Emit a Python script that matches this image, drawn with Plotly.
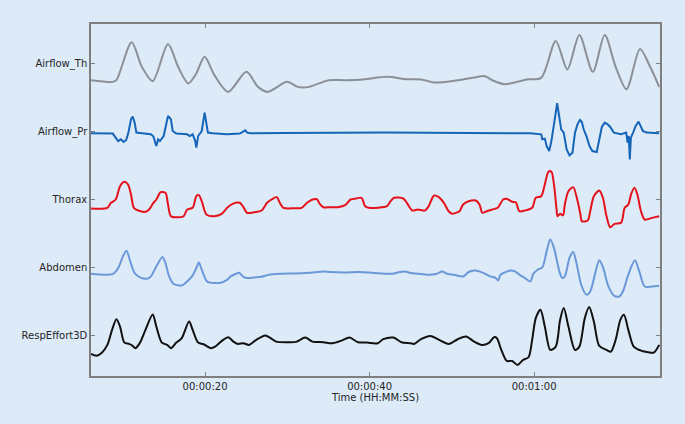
import plotly.graph_objects as go

# ---- Data (time in seconds, amplitude in arbitrary units) ----
channel_names = ["Airflow_Th", "Airflow_Pr", "Thorax", "Abdomen", "RespEffort3D"]
channel_colors = ["#8a9096", "#1565b8", "#e5121b", "#6b98d8", "#111111"]
channel_offsets = [272, 204, 136, 68, 0]

x_tick_seconds = [20, 40, 60]
x_tick_labels = ["00:00:20", "00:00:40", "00:01:00"]

airflow_th_t = [6.14, 8.79, 9.23, 11.08, 12.32, 13.64, 15.50, 16.73, 17.97, 18.94, 19.95, 21.14,
                22.82, 25.03, 26.44, 27.63, 29.97, 31.29, 32.62, 35.05, 37.03, 39.24, 42.11, 44.53,
                46.30, 47.84, 50.27, 52.48, 54.02, 54.90, 56.45, 59.10, 60.86, 62.63, 64.04, 65.50,
                67.13, 68.58, 69.91, 71.23, 72.87, 74.10, 75.20]
airflow_th_v = [-17, -18.7, -17, 20.7, -3.7, -18, 19, -3.7, -20.3, -10.3, 6.3, -12,
                -28.7, -8.7, -23.7, -28.7, -18.7, -23.7, -23.7, -17, -17, -16.3, -13.7, -16,
                -16.3, -19.3, -17.7, -14.7, -13, -17, -21, -16.3, -14.7, 22, -6.3, 28,
                -8.7, 28, -3.7, -26, 14, -3.7, -23.7]

airflow_pr_t = [6.14, 8.79, 9.14, 9.45, 9.76, 10.11, 10.42, 10.69, 11.00, 11.21, 11.44, 11.66,
                12.32, 13.42, 13.73, 14.00, 14.08, 14.30, 14.52, 14.97, 15.27, 15.50, 15.85, 16.07,
                16.51, 17.83, 18.14, 18.50, 18.81, 18.94, 19.16, 19.60, 19.95, 20.17, 20.35, 20.92,
                22.69, 24.23, 24.67, 24.90, 25.12, 25.56, 29.53, 41.89, 59.54, 60.86, 60.99, 61.30,
                61.52, 61.83, 62.10, 62.27, 62.45, 62.63, 62.80, 63.07, 63.29, 63.60, 63.95, 64.30,
                64.66, 64.97, 65.27, 65.58, 65.80, 66.02, 66.38, 66.73, 67.08, 67.61, 67.92, 68.23,
                68.58, 68.94, 69.25, 69.69, 70.57, 71.19, 71.36, 71.50, 71.63, 71.76, 72.03, 72.34,
                72.69, 72.95, 73.22, 73.66, 75.20]
airflow_pr_v = [-2.0, -2.3, -6.3, -9.7, -8.0, -10.7, -8.7, -1.3, 12.0, 14.7, 8.7, -1.3,
                -2.0, -3.0, -5.3, -11.3, -14.7, -8.0, -9.7, -4.7, 8.7, 15.3, 12.0, 0.3,
                -2.3, -3.0, -4.7, -3.0, -9.7, -16.3, -4.7, 0.3, 18.7, 5.3, -1.3, -2.0,
                -3.0, -2.3, 0.3, 1.0, -1.3, -2.0, -1.7, -1.3, -2.0, -3.0, -8.0, -7.3,
                -14.7, -19.7, -9.7, -1.3, 5.3, 18.7, 28.0, 12.0, 2.0, -1.3, -18.0, -24.0,
                -21.3, -1.3, 7.0, 11.3, 9.3, 2.0, -5.3, -14.7, -19.7, -20.7, -9.7, 4.3,
                8.7, 7.0, 4.3, -1.3, -3.0, -1.3, -11.3, -4.7, -28.0, -6.3, -1.3, 5.3,
                9.7, 4.3, 0.3, -1.3, -2.0]

thorax_t = [6.14, 8.13, 8.57, 9.14, 9.67, 10.20, 10.64, 11.00, 11.35, 11.88, 12.76, 13.20,
            13.64, 14.08, 14.61, 15.19, 15.50, 15.85, 16.51, 17.39, 17.83, 18.50, 18.94, 19.25,
            19.60, 20.17, 21.14, 22.03, 22.69, 23.35, 24.23, 24.59, 25.12, 26.00, 26.88, 27.54,
            28.21, 28.73, 29.09, 29.53, 30.85, 31.74, 32.40, 33.06, 33.59, 33.94, 34.38, 35.27,
            36.15, 37.03, 37.69, 38.36, 39.02, 39.46, 39.90, 41.00, 42.11, 42.55, 42.99, 44.09,
            44.53, 45.20, 45.86, 46.74, 47.18, 47.84, 48.42, 49.03, 49.61, 50.05, 50.49, 50.93,
            51.37, 52.04, 52.92, 53.36, 53.71, 54.24, 54.90, 55.57, 56.23, 56.67, 57.33, 57.77,
            58.21, 58.87, 59.76, 60.20, 60.86, 61.30, 61.74, 62.10, 62.41, 62.71, 62.85, 63.16,
            63.51, 63.73, 64.17, 64.75, 65.19, 65.63, 65.80, 66.51, 66.82, 67.26, 67.92, 68.36,
            68.80, 69.25, 69.77, 70.57, 71.01, 71.45, 71.80, 72.20, 72.55, 72.99, 73.44, 74.32,
            75.20]
thorax_v = [-9.0, -8.3, -3.3, 0.0, 13.3, 17.7, 15.0, 5.0, -8.3, -11.0, -12.3, -10.0,
            -4.3, 0.0, 7.3, 6.7, -5.0, -16.7, -17.7, -16.7, -10.0, -8.3, 3.3, 4.3,
            -1.7, -15.0, -16.7, -14.3, -8.3, -4.3, -3.3, -6.7, -13.3, -12.7, -11.0, -3.3,
            0.7, 2.3, -3.3, -8.3, -8.7, -8.3, -3.3, 0.0, 0.3, -4.3, -7.7, -7.7,
            -7.7, -5.7, 0.0, 1.0, 1.7, -6.7, -8.3, -8.3, -6.7, -1.7, 1.7, 1.0,
            -3.3, -11.0, -10.0, -11.0, -6.7, 4.0, 2.3, -3.3, -11.7, -14.3, -13.3, -11.7,
            -5.0, -1.7, -1.0, -5.0, -13.3, -11.7, -10.0, -8.3, 0.0, 0.7, -2.3, -2.7,
            -11.7, -11.0, -8.3, 1.7, 3.3, 15.0, 27.7, 27.7, 15.0, -8.3, -16.7, -14.3,
            -15.7, -5.0, 8.3, 12.3, 1.7, -15.0, -21.7, -21.0, -11.7, 3.3, 9.0, 1.7,
            -16.7, -27.7, -24.3, -23.3, -8.3, -5.0, 5.7, 11.7, 5.0, -11.7, -20.0, -18.3,
            -16.7]

abdomen_t = [6.14, 8.79, 9.45, 10.02, 10.46, 10.91, 11.44, 12.10, 12.98, 13.42, 14.08, 14.83,
             15.19, 15.63, 16.20, 17.17, 17.83, 18.50, 18.94, 19.25, 19.60, 20.26, 21.14, 22.03,
             22.69, 23.13, 23.70, 24.15, 24.59, 25.03, 26.00, 26.88, 27.76, 29.09, 30.85, 32.62,
             34.38, 35.27, 37.03, 38.80, 40.56, 42.77, 43.65, 44.31, 44.97, 45.86, 47.18, 48.06,
             48.86, 49.39, 50.27, 51.37, 52.04, 52.70, 53.36, 54.02, 54.68, 55.34, 55.65, 55.92,
             56.45, 57.11, 57.68, 58.21, 58.87, 59.54, 59.89, 60.42, 60.99, 61.52, 61.96, 62.41,
             63.07, 63.42, 63.73, 64.30, 64.75, 65.19, 65.72, 66.38, 66.82, 67.48, 67.92, 68.36,
             69.03, 69.69, 70.35, 70.79, 71.45, 72.25, 72.78, 73.44, 74.32, 75.20]
abdomen_v = [-6.0, -6.3, -0.3, 11.3, 17.0, 6.3, -5.3, -9.7, -11.0, -8.7, 1.3, 10.7,
             4.7, -8.7, -16.3, -17.7, -13.7, -7.7, -0.3, 5.3, -2.0, -13.7, -15.3, -14.7,
             -12.0, -8.7, -6.3, -5.0, -8.7, -10.3, -9.7, -9.0, -7.0, -6.0, -5.7, -5.0,
             -3.7, -4.3, -4.7, -4.3, -5.3, -6.0, -4.3, -3.7, -5.3, -6.0, -7.0, -6.3,
             -3.7, -6.0, -7.0, -8.7, -4.3, -2.7, -3.7, -6.0, -8.7, -10.3, -12.7, -7.0,
             -4.7, -2.7, -3.7, -7.0, -10.3, -13.7, -6.3, -2.0, 0.3, 16.3, 28.0, 19.7,
             -3.7, -10.3, -8.7, 9.7, 15.7, 3.0, -17.0, -27.0, -23.7, -3.7, 7.3, 0.7,
             -18.7, -27.7, -28.7, -23.7, -7.0, 7.3, -3.7, -18.7, -18.7, -18.0]

resp_t = [6.14, 6.80, 7.46, 8.13, 8.70, 9.23, 9.67, 10.20, 10.77, 11.21, 11.52, 12.10,
          12.76, 13.64, 14.08, 14.75, 15.41, 15.85, 16.51, 17.17, 18.06, 18.50, 19.16, 19.82,
          20.70, 21.23, 21.94, 22.82, 23.44, 24.01, 24.67, 25.34, 26.22, 27.32, 27.98, 28.65,
          29.97, 31.07, 32.18, 33.06, 34.38, 35.49, 36.59, 37.56, 38.58, 39.68, 41.00, 41.66,
          42.90, 43.87, 44.97, 45.42, 46.30, 47.40, 48.28, 49.61, 50.71, 51.73, 52.70, 53.58,
          54.46, 55.12, 55.48, 56.01, 56.67, 57.33, 57.99, 58.65, 59.32, 59.76, 60.20, 60.77,
          61.30, 61.96, 62.63, 63.16, 63.60, 64.17, 64.97, 65.50, 66.16, 66.69, 67.26, 67.92,
          68.80, 69.33, 69.91, 70.48, 70.92, 71.45, 72.11, 73.00, 73.88, 74.54, 75.20]
resp_v = [-18.0, -19.7, -16.7, -9.0, 6.0, 16.7, 9.3, -6.7, -8.0, -10.0, -12.3, -6.7,
          6.0, 21.3, 9.3, -6.7, -9.0, -12.3, -6.7, -2.3, 14.3, 6.0, -6.7, -8.3,
          -12.3, -10.7, -5.7, -1.3, -5.7, -8.0, -7.3, -9.0, -4.0, 0.3, -2.3, -5.7,
          -6.3, -6.0, -1.7, -5.7, -6.3, -7.3, -4.7, -1.7, -6.3, -6.7, -7.3, -3.3,
          -1.7, -6.3, -7.3, -8.0, -3.0, 0.0, -3.3, -8.0, -3.3, -0.7, -5.7, -9.0,
          -7.3, -1.3, -2.3, -14.0, -25.0, -25.0, -29.0, -24.0, -21.3, -4.0, 17.7, 26.0,
          9.3, -14.0, -10.7, 16.0, 27.7, 9.3, -14.0, -10.7, 17.7, 28.7, 14.3, -10.0,
          -14.0, -15.7, -4.0, 16.0, 21.0, 6.0, -10.7, -14.7, -16.3, -16.7, -9.0]

series_t = [airflow_th_t, airflow_pr_t, thorax_t, abdomen_t, resp_t]
series_v = [airflow_th_v, airflow_pr_v, thorax_v, abdomen_v, resp_v]

BG = "#ddeaf8"
AXIS = "#7f7f7f"
TEXT = "#262626"

fig = go.Figure()
for name, color, off, ts, vs in zip(channel_names, channel_colors, channel_offsets, series_t, series_v):
    fig.add_trace(go.Scatter(
        x=ts, y=[off + v for v in vs], mode="lines", name=name,
        line=dict(color=color, width=2,
                  shape="linear" if name == "Airflow_Pr" else "spline",
                  smoothing=0.8),
        showlegend=False,
    ))

fig.update_layout(
    width=685, height=424,
    margin=dict(l=91, r=25, t=24, b=48),
    paper_bgcolor=BG, plot_bgcolor=BG,
    font=dict(family="DejaVu Sans", size=10, color=TEXT),
)
fig.update_xaxes(
    range=[6.14, 75.3], tickvals=x_tick_seconds, ticktext=x_tick_labels,
    showgrid=False, zeroline=False, showline=True, linecolor=AXIS, linewidth=1.5,
    mirror="ticks", ticks="inside", ticklen=4, tickcolor=AXIS,
    title=dict(text="Time (HH:MM:SS)", standoff=2, font=dict(size=10, color=TEXT)),
)
fig.update_yaxes(
    range=[-40, 311], tickvals=channel_offsets, ticktext=channel_names,
    showgrid=False, zeroline=False, showline=True, linecolor=AXIS, linewidth=1.5,
    mirror="ticks", ticks="inside", ticklen=4, tickcolor=AXIS,
)
fig.write_html(
    "out.html",
    config={"displayModeBar": False},
    post_script="document.body.style.margin='0px';document.body.style.background='" + BG + "';",
)
